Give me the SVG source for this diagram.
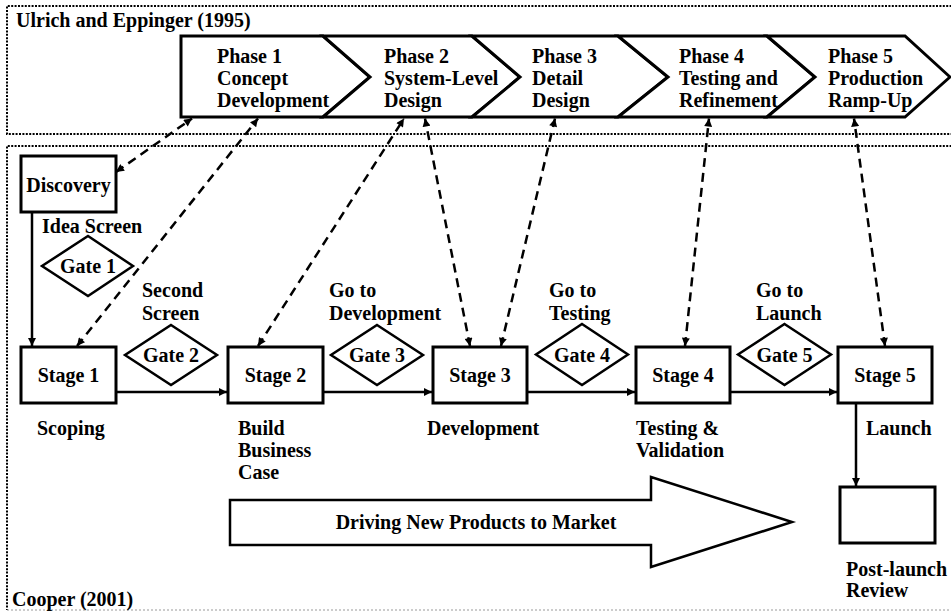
<svg xmlns="http://www.w3.org/2000/svg" width="951" height="612" viewBox="0 0 951 612" font-family="Liberation Serif">
<defs>
<marker id="ah" viewBox="0 0 10 10" refX="10" refY="5" markerWidth="9" markerHeight="8" markerUnits="userSpaceOnUse" orient="auto-start-reverse">
<path d="M0,0 L10,5 L0,10 z" fill="#000"/>
</marker>
</defs>
<style>
.mid{text-anchor:middle}
.frame{fill:none;stroke:#000;stroke-width:2;stroke-dasharray:2 1.4}
.phase{fill:#fff;stroke:#000;stroke-width:3;stroke-linejoin:miter}
.box{fill:#fff;stroke:#000;stroke-width:3}
.gate{fill:#fff;stroke:#000;stroke-width:2.5}
.dash{fill:none;stroke:#000;stroke-width:2.5;stroke-dasharray:9 6;marker-start:url(#ah);marker-end:url(#ah)}
.solid{fill:none;stroke:#000;stroke-width:2.5;marker-end:url(#ah)}
</style>
<rect width="951" height="612" fill="#fff"/>
<g font-family="Liberation Serif" font-size="20" font-weight="bold">

<g id="frame-ulrich">
<path class="frame" d="M955,6 H7 V134 H955"/>
<text x="16" y="27" font-family="Liberation Serif">Ulrich and Eppinger (1995)</text>
</g>
<g id="frame-cooper">
<path class="frame" d="M955,146 H7 V610"/>
<path d="M7,610 H955" fill="none" stroke="#999" stroke-width="1" stroke-dasharray="2 2"/>
<text x="12" y="606" font-family="Liberation Serif">Cooper (2001)</text>
</g>

<g id="phase1">
<polygon class="phase" points="181,36 323,36 370,77 323,117 181,117"/>
<text x="217" y="63" font-family="Liberation Serif">Phase 1</text><text x="217" y="85" font-family="Liberation Serif">Concept</text><text x="217" y="107" font-family="Liberation Serif">Development</text>
</g>
<g id="phase2">
<polygon class="phase" points="323,36 472,36 520,77 472,117 323,117 370,77"/>
<text x="384" y="63" font-family="Liberation Serif">Phase 2</text><text x="384" y="85" font-family="Liberation Serif">System-Level</text><text x="384" y="107" font-family="Liberation Serif">Design</text>
</g>
<g id="phase3">
<polygon class="phase" points="472,36 618,36 668,77 618,117 472,117 520,77"/>
<text x="532" y="63" font-family="Liberation Serif">Phase 3</text><text x="532" y="85" font-family="Liberation Serif">Detail</text><text x="532" y="107" font-family="Liberation Serif">Design</text>
</g>
<g id="phase4">
<polygon class="phase" points="618,36 767,36 815,77 767,117 618,117 668,77"/>
<text x="679" y="63" font-family="Liberation Serif">Phase 4</text><text x="679" y="85" font-family="Liberation Serif">Testing and</text><text x="679" y="107" font-family="Liberation Serif">Refinement</text>
</g>
<g id="phase5">
<polygon class="phase" points="767,36 905,36 950,77 905,117 767,117 815,77"/>
<text x="828" y="63" font-family="Liberation Serif">Phase 5</text><text x="828" y="85" font-family="Liberation Serif">Production</text><text x="828" y="107" font-family="Liberation Serif">Ramp-Up</text>
</g>

<g id="discovery">
<rect class="box" x="21" y="156" width="95" height="56"/>
<text class="mid" x="68.5" y="192" font-family="Liberation Serif">Discovery</text>
</g>
<g id="gate1">
<text x="42" y="233" font-family="Liberation Serif">Idea Screen</text>
<polygon class="gate" points="88,236 133,266 88,296 42,266"/>
<text class="mid" x="88" y="273" font-family="Liberation Serif">Gate 1</text>
</g>

<g id="stage1">
<rect class="box" x="21" y="347" width="95" height="56"/>
<text class="mid" x="68.5" y="382" font-family="Liberation Serif">Stage 1</text>
<text x="37" y="435" font-family="Liberation Serif">Scoping</text>
</g>
<g id="gate2">
<text x="142" y="297" font-family="Liberation Serif">Second</text><text x="142" y="320" font-family="Liberation Serif">Screen</text>
<polygon class="gate" points="171,325 217,355 171,385 125,355"/>
<text class="mid" x="171" y="362" font-family="Liberation Serif">Gate 2</text>
</g>
<g id="stage2">
<rect class="box" x="228" y="347" width="95" height="56"/>
<text class="mid" x="275.5" y="382" font-family="Liberation Serif">Stage 2</text>
<text x="238" y="435" font-family="Liberation Serif">Build</text><text x="238" y="457" font-family="Liberation Serif">Business</text><text x="238" y="479" font-family="Liberation Serif">Case</text>
</g>
<g id="gate3">
<text x="329" y="297" font-family="Liberation Serif">Go to</text><text x="329" y="320" font-family="Liberation Serif">Development</text>
<polygon class="gate" points="377,325 423,355 377,385 331,355"/>
<text class="mid" x="377" y="362" font-family="Liberation Serif">Gate 3</text>
</g>
<g id="stage3">
<rect class="box" x="433" y="347" width="94" height="56"/>
<text class="mid" x="480" y="382" font-family="Liberation Serif">Stage 3</text>
<text x="427" y="435" font-family="Liberation Serif">Development</text>
</g>
<g id="gate4">
<text x="549" y="297" font-family="Liberation Serif">Go to</text><text x="549" y="320" font-family="Liberation Serif">Testing</text>
<polygon class="gate" points="582,324 628,354.5 582,385 536,354.5"/>
<text class="mid" x="582" y="362" font-family="Liberation Serif">Gate 4</text>
</g>
<g id="stage4">
<rect class="box" x="636" y="347" width="94" height="56"/>
<text class="mid" x="683" y="382" font-family="Liberation Serif">Stage 4</text>
<text x="636" y="435" font-family="Liberation Serif">Testing &amp;</text><text x="636" y="457" font-family="Liberation Serif">Validation</text>
</g>
<g id="gate5">
<text x="756" y="297" font-family="Liberation Serif">Go to</text><text x="756" y="320" font-family="Liberation Serif">Launch</text>
<polygon class="gate" points="784.5,324 831,354.5 784.5,385 738,354.5"/>
<text class="mid" x="784.5" y="362" font-family="Liberation Serif">Gate 5</text>
</g>
<g id="stage5">
<rect class="box" x="838" y="347" width="94" height="56"/>
<text class="mid" x="885" y="382" font-family="Liberation Serif">Stage 5</text>
<text x="866" y="435" font-family="Liberation Serif">Launch</text>
</g>
<g id="postlaunch">
<rect class="box" x="840" y="487" width="95" height="56"/>
<text x="846" y="576" font-family="Liberation Serif">Post-launch</text><text x="846" y="597" font-family="Liberation Serif">Review</text>
</g>

<g id="driving-arrow">
<polygon points="230,500 651,500 651,477 792,522 651,567 651,545 230,545" fill="#fff" stroke="#000" stroke-width="2.5"/>
<text class="mid" x="476" y="529" font-family="Liberation Serif">Driving New Products to Market</text>
</g>

<g id="connectors">
<path class="solid" d="M32,212 V346"/>
<path class="solid" d="M116,392 H227"/>
<path class="solid" d="M323,392 H432"/>
<path class="solid" d="M527,392 H635"/>
<path class="solid" d="M730,392 H837"/>
<path class="solid" d="M856,403 V486"/>
<path class="dash" d="M116,172 L192,118.5"/>
<path class="dash" d="M77,346 L258,118.5"/>
<path class="dash" d="M258,346 L404,118.5"/>
<path class="dash" d="M470,346 L425,118.5"/>
<path class="dash" d="M501,346 L555,118.5"/>
<path class="dash" d="M685,346 L709,118.5"/>
<path class="dash" d="M885,346 L854,118.5"/>
</g>
</g>
</svg>
